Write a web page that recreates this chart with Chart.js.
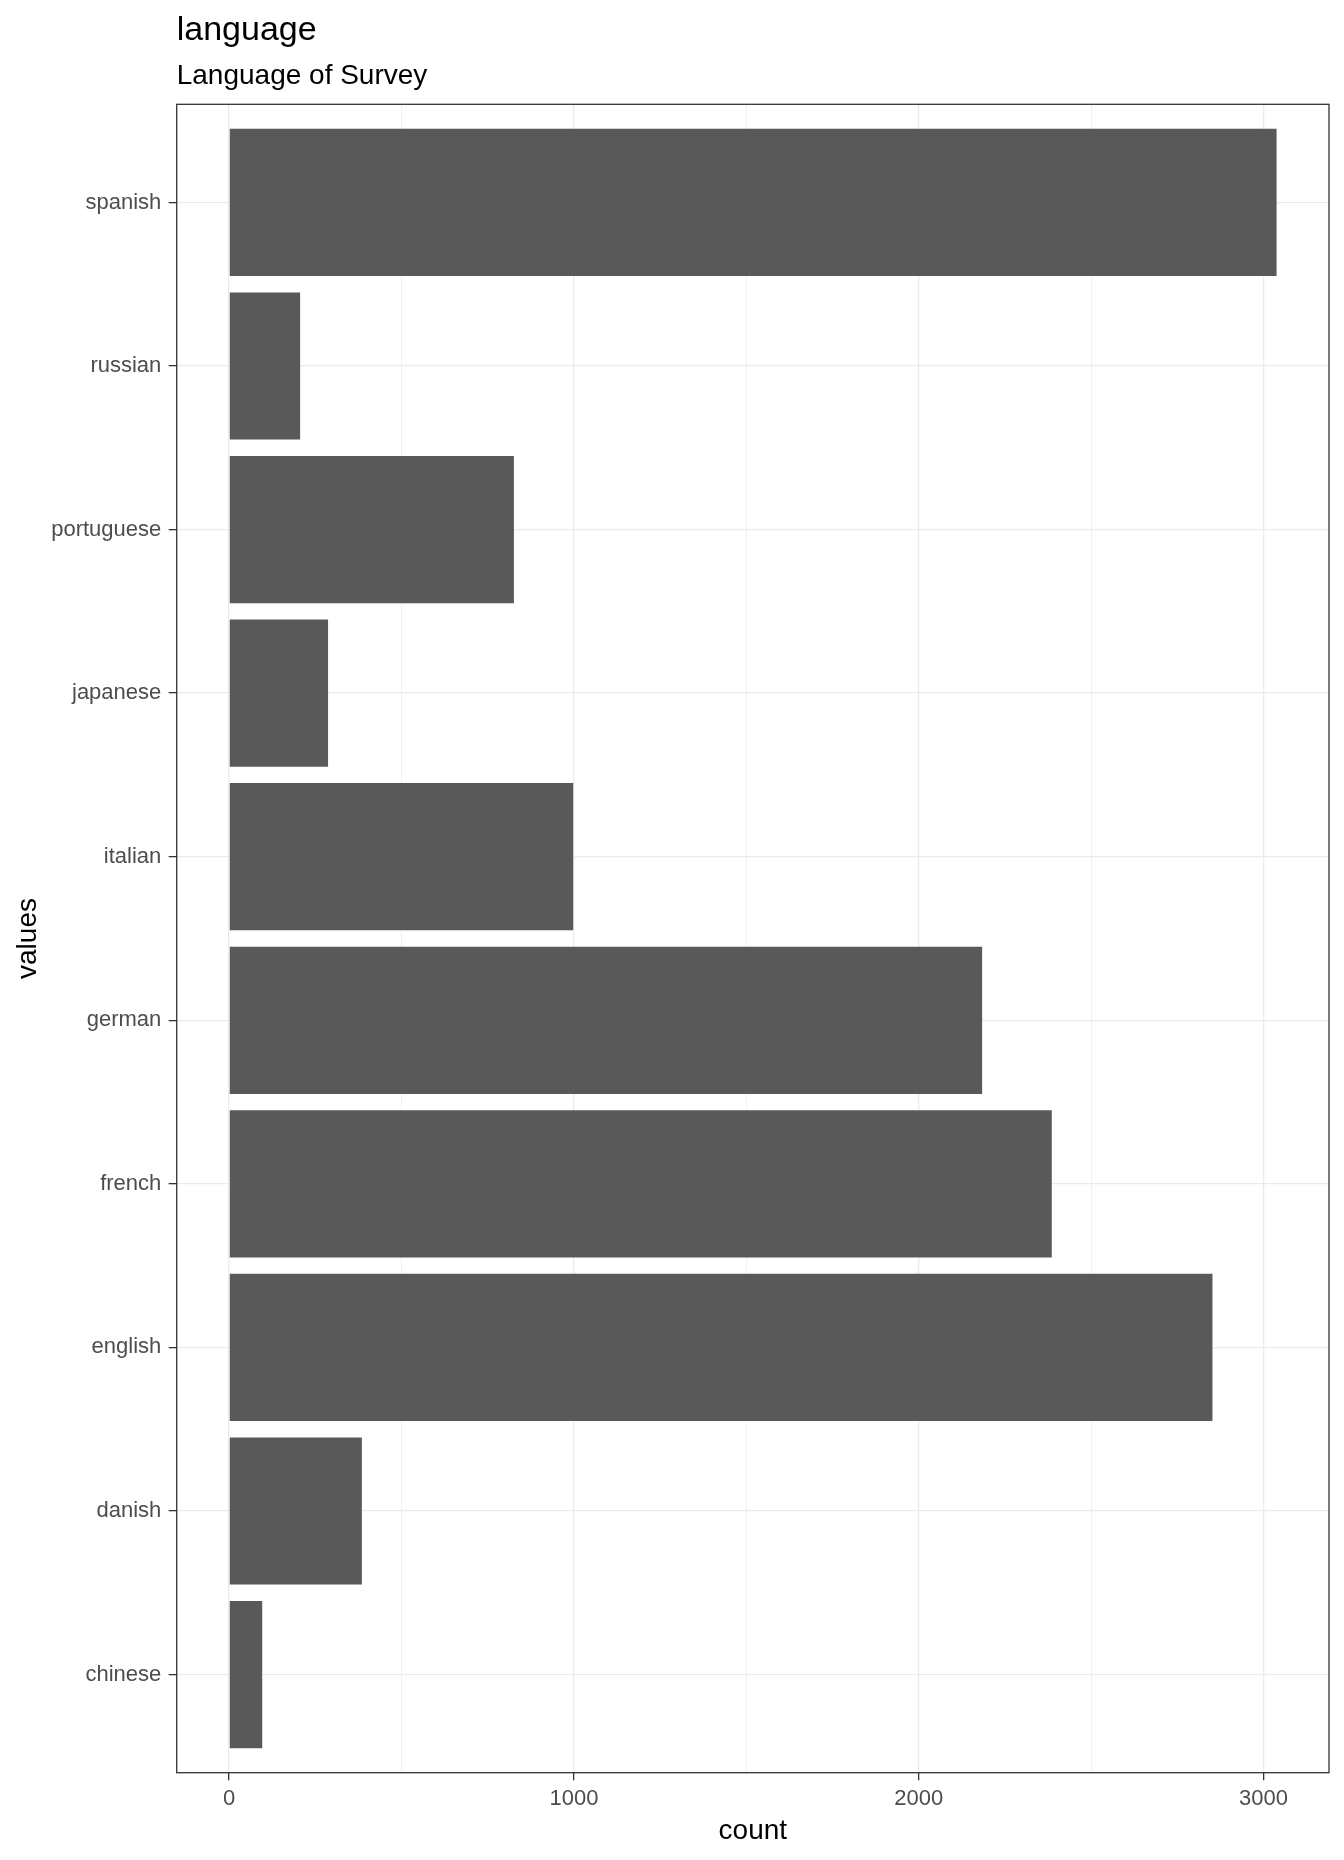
<!DOCTYPE html>
<html lang="en">
<head>
  <meta charset="UTF-8">
  <title>language</title>
  <script src="https://cdn.jsdelivr.net/npm/chart.js"></script>
  <style>
    html, body { margin: 0; padding: 0; background: #fff; }
    #chart { display: block; }
  </style>
</head>
<body>
  <canvas id="chart" width="1344" height="1860"></canvas>

  <script>
    // categories bottom -> top (ggplot puts the first level at the bottom)
    const languages = ['chinese', 'danish', 'english', 'french', 'german',
                       'italian', 'japanese', 'portuguese', 'russian', 'spanish'];
    const counts = [96, 385, 2852, 2386, 2184, 998, 287, 826, 206, 3038];
    const countTicks = [0, 500, 1000, 1500, 2000, 2500, 3000];
    const countLabels = ['0', '', '1000', '', '2000', '', '3000'];

    const FONT = "'Liberation Sans', Arial, sans-serif";
    const GRID = '#EBEBEB';
    const INK = '#333333';

    // panel border all round
    const panelBorder = {
      id: 'panelBorder',
      afterDatasetsDraw(chart) {
        const { ctx, chartArea: a } = chart;
        ctx.save();
        ctx.strokeStyle = INK;
        ctx.lineWidth = 1.3;
        ctx.strokeRect(a.left, a.top, a.right - a.left, a.bottom - a.top);
        ctx.restore();
      }
    };

    const isMajor = v => v % 1000 === 0;

    new Chart(document.getElementById('chart'), {
      type: 'bar',
      data: {
        datasets: [{
          data: counts.map((v, i) => ({ x: v, y: i })),
          backgroundColor: '#595959',
          borderWidth: 0,
          barPercentage: 0.9,
          categoryPercentage: 1.0
        }]
      },
      options: {
        indexAxis: 'y',
        responsive: false,
        animation: false,
        devicePixelRatio: 1,
        layout: { padding: { left: 0, right: 15, top: 0, bottom: 0 } },
        plugins: {
          legend: { display: false },
          tooltip: { enabled: false },
          title: {
            display: true,
            text: 'language',
            align: 'start',
            fullSize: false,
            color: '#000',
            font: { family: FONT, size: 34, weight: 'normal' },
            padding: { top: 10.6, bottom: 0 }
          },
          subtitle: {
            display: true,
            text: 'Language of Survey',
            align: 'start',
            fullSize: false,
            color: '#000',
            font: { family: FONT, size: 28, weight: 'normal' },
            padding: { top: 7.8, bottom: 11.5 }
          }
        },
        scales: {
          x: {
            type: 'linear',
            min: -152,
            max: 3190,
            afterBuildTicks: s => { s.ticks = countTicks.map(v => ({ value: v })); },
            afterFit: s => { s.height = 87.3; },
            border: { display: false },
            grid: {
              color: GRID,
              lineWidth: c => (c.tick && isMajor(c.tick.value)) ? 1.3 : 0.7,
              tickColor: c => (c.tick && isMajor(c.tick.value)) ? INK : 'rgba(0,0,0,0)',
              tickLength: 7.5,
              tickWidth: 1.3
            },
            ticks: {
              autoSkip: false,
              maxRotation: 0,
              padding: 5.5,
              color: '#4D4D4D',
              font: { family: FONT, size: 22 },
              callback: (v, i) => countLabels[i]
            },
            title: {
              display: true,
              text: 'count',
              color: '#000',
              font: { family: FONT, size: 28 },
              padding: { top: 0, bottom: 12.2 }
            }
          },
          y: {
            type: 'linear',
            offset: false,
            min: -0.6,
            max: languages.length - 0.4,
            afterBuildTicks: s => { s.ticks = languages.map((_, i) => ({ value: i })); },
            afterFit: s => { s.width = 176.7; },
            border: { display: false },
            grid: {
              offset: false,
              color: GRID,
              lineWidth: 1.3,
              tickColor: INK,
              tickLength: 8,
              tickWidth: 1.3
            },
            ticks: {
              autoSkip: false,
              padding: 7.4,
              color: '#4D4D4D',
              font: { family: FONT, size: 22 },
              callback: v => languages[v]
            },
            title: {
              display: true,
              text: 'values',
              color: '#000',
              font: { family: FONT, size: 28 },
              padding: { top: 11.5, bottom: 0 }
            }
          }
        }
      },
      plugins: [panelBorder]
    });
  </script>
</body>
</html>
